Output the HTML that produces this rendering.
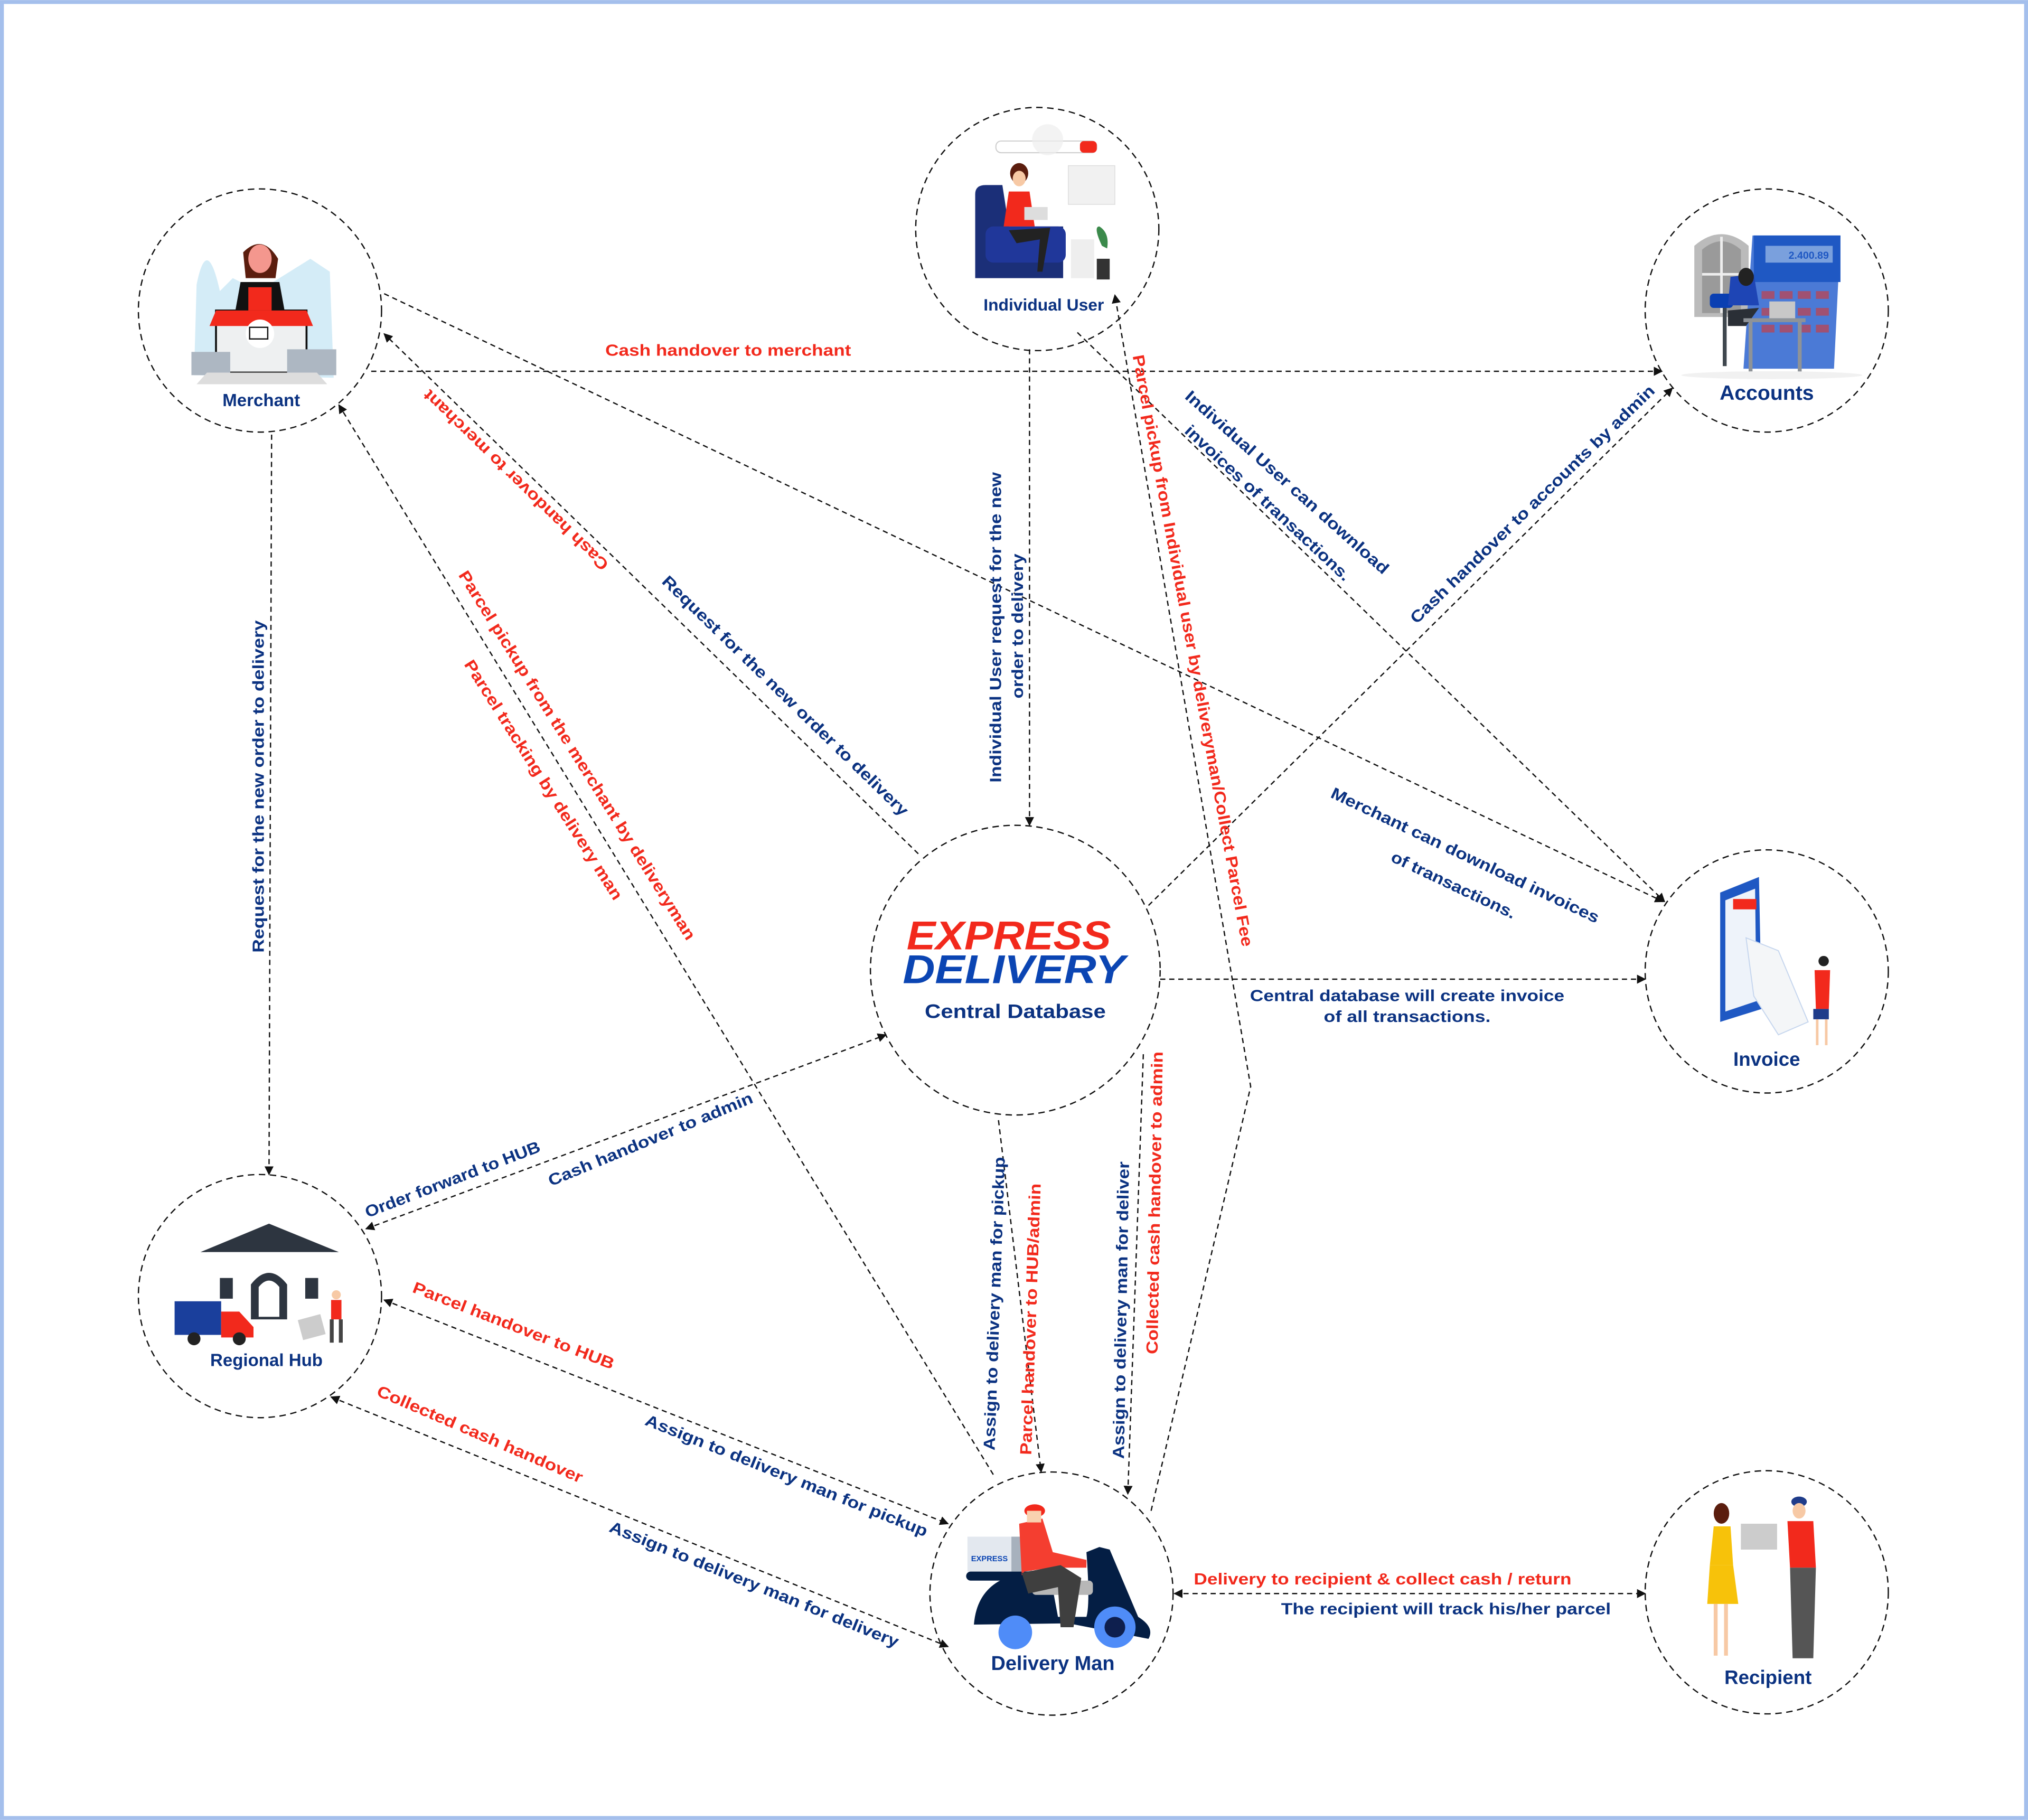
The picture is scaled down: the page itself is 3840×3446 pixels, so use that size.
<!DOCTYPE html>
<html><head><meta charset="utf-8"><style>
html,body{margin:0;padding:0;background:#fff}
svg{display:block}
text{font-family:"Liberation Sans",sans-serif;font-weight:bold}
.n{fill:#0b3281}.r{fill:#f2291c}
.l{stroke:#111;stroke-width:1;stroke-dasharray:4 3;fill:none}
.c{stroke:#111;stroke-width:1;stroke-dasharray:5 3.5;fill:none}
</style></head><body>
<svg width="3840" height="3446" viewBox="0 0 1568 1407" xmlns="http://www.w3.org/2000/svg">
<defs>
<marker id="a" viewBox="0 0 10 10" refX="9" refY="5" markerWidth="7" markerHeight="7" markerUnits="userSpaceOnUse" orient="auto-start-reverse"><path d="M0,0 L10,5 L0,10 z" fill="#111"/></marker>
</defs>
<rect x="1.5" y="1.5" width="1565" height="1404" fill="#fff" stroke="#a4bfec" stroke-width="3"/>

<line class="l" x1="287" y1="287" x2="1285" y2="287" marker-end="url(#a)"/>
<line class="l" x1="210" y1="336" x2="208" y2="908" marker-end="url(#a)"/>
<line class="l" x1="297" y1="227" x2="1286" y2="697" marker-end="url(#a)"/>
<line class="l" x1="710" y1="660" x2="297" y2="258" marker-end="url(#a)"/>
<line class="l" x1="768" y1="1140" x2="262" y2="313" marker-end="url(#a)"/>
<line class="l" x1="796" y1="270" x2="796" y2="638" marker-end="url(#a)"/>
<line class="l" x1="833" y1="257" x2="1287" y2="697" marker-end="url(#a)"/>
<polyline class="l" points="890,1168 967,840 862,228" marker-end="url(#a)"/>
<line class="l" x1="888" y1="700" x2="1293" y2="300" marker-end="url(#a)"/>
<line class="l" x1="897" y1="757" x2="1272" y2="757" marker-end="url(#a)"/>
<line class="l" x1="283" y1="950" x2="685" y2="800" marker-start="url(#a)" marker-end="url(#a)"/>
<line class="l" x1="297" y1="1005" x2="733" y2="1178" marker-start="url(#a)" marker-end="url(#a)"/>
<line class="l" x1="256" y1="1080" x2="733" y2="1273" marker-start="url(#a)" marker-end="url(#a)"/>
<line class="l" x1="772" y1="866" x2="805" y2="1138" marker-end="url(#a)"/>
<line class="l" x1="884" y1="815" x2="872" y2="1155" marker-end="url(#a)"/>
<line class="l" x1="908" y1="1232" x2="1272" y2="1232" marker-start="url(#a)" marker-end="url(#a)"/>

<circle class="c" cx="201" cy="240" r="94" fill="#fff"/>
<circle class="c" cx="802" cy="177" r="94" fill="#fff"/>
<circle class="c" cx="1366" cy="240" r="94" fill="#fff"/>
<circle class="c" cx="785" cy="750" r="112" fill="#fff"/>
<circle class="c" cx="1366" cy="751" r="94" fill="#fff"/>
<circle class="c" cx="201" cy="1002" r="94" fill="#fff"/>
<circle class="c" cx="813" cy="1232" r="94" fill="#fff"/>
<circle class="c" cx="1366" cy="1231" r="94" fill="#fff"/>

<g>
<path d="M150,290 L152,220 Q160,180 170,225 L180,215 L200,225 L240,200 L255,210 L258,292 Z" fill="#d4ecf7"/>
<rect x="167" y="240" width="70" height="48" fill="#eef0f1" stroke="#111" stroke-width="1.5"/>
<path d="M188,195 Q203,180 215,200 L213,215 L190,215 Z" fill="#5b1d0e"/>
<ellipse cx="201" cy="200" rx="9" ry="11" fill="#f4978e"/>
<path d="M182,240 L186,218 L216,218 L220,240 Z" fill="#111"/>
<rect x="192" y="222" width="18" height="18" fill="#f2291c"/>
<path d="M167,240 L237,240 L242,252 L162,252 Z" fill="#f2291c"/>
<circle cx="201" cy="258" r="11" fill="#fff"/>
<rect x="193" y="253" width="14" height="9" fill="none" stroke="#111" stroke-width="1"/>
<rect x="148" y="272" width="30" height="18" fill="#adb7c2"/>
<rect x="222" y="270" width="38" height="20" fill="#adb7c2"/>
<path d="M160,288 L245,288 L253,297 L152,297 Z" fill="#ddd"/>
</g>
<text class="n" x="202" y="314" font-size="13.5" text-anchor="middle">Merchant</text>

<g>
<rect x="770" y="109" width="78" height="9" rx="4" fill="#fff" stroke="#ccc" stroke-width="0.8"/>
<rect x="835" y="109" width="13" height="9" rx="3" fill="#f2291c"/>
<circle cx="810" cy="108" r="12" fill="#eee" opacity="0.7"/>
<rect x="826" y="128" width="36" height="30" fill="#f1f1f1" stroke="#ddd" stroke-width="0.6"/>
<path d="M754,215 L754,150 Q754,143 762,143 L775,143 L780,175 L822,175 L822,215 Z" fill="#1b2f78"/>
<rect x="762" y="175" width="62" height="28" rx="6" fill="#20379a"/>
<ellipse cx="788" cy="134" rx="7" ry="8" fill="#5b1d0e"/>
<ellipse cx="788" cy="138" rx="5" ry="6" fill="#f7c9a5"/>
<path d="M776,175 L780,148 L796,148 L800,175 Z" fill="#f2291c"/>
<path d="M780,178 L812,176 L806,210 L802,210 L804,185 L786,188 Z" fill="#222"/>
<rect x="792" y="160" width="18" height="10" fill="#ddd"/>
<rect x="828" y="185" width="18" height="30" fill="#eee"/>
<path d="M852,190 Q845,175 850,175 Q858,180 856,192 Z" fill="#3b8a4b"/>
<rect x="848" y="200" width="10" height="16" fill="#333"/>
</g>
<text class="n" x="807" y="240" font-size="13" text-anchor="middle">Individual User</text>

<g>
<path d="M1310,245 L1310,190 Q1331,172 1352,190 L1352,245 Z" fill="#bbb"/>
<path d="M1316,242 L1316,193 Q1331,180 1346,193 L1346,242 Z" fill="#9a9a9a"/>
<line x1="1331" y1="183" x2="1331" y2="242" stroke="#eee" stroke-width="2"/>
<line x1="1316" y1="212" x2="1346" y2="212" stroke="#eee" stroke-width="2"/>
<path d="M1355,182 L1423,182 L1418,285 L1348,285 Z" fill="#4b7ad6"/>
<rect x="1356" y="182" width="67" height="36" fill="#1f58c3"/>
<rect x="1365" y="190" width="52" height="13" fill="#7aa0dd"/>
<text x="1414" y="200" font-size="8" font-weight="normal" fill="#1f58c3" text-anchor="end">2.400.89</text>
<g fill="#a05172">
<rect x="1362" y="225" width="10" height="6"/><rect x="1376" y="225" width="10" height="6"/><rect x="1390" y="225" width="10" height="6"/><rect x="1404" y="225" width="10" height="6"/>
<rect x="1362" y="238" width="10" height="6"/><rect x="1376" y="238" width="10" height="6"/><rect x="1390" y="238" width="10" height="6"/><rect x="1404" y="238" width="10" height="6"/>
<rect x="1362" y="251" width="10" height="6"/><rect x="1376" y="251" width="10" height="6"/><rect x="1390" y="251" width="10" height="6"/><rect x="1404" y="251" width="10" height="6"/>
</g>
<rect x="1322" y="227" width="18" height="11" rx="3" fill="#0a3fb2"/>
<rect x="1332" y="238" width="3" height="45" fill="#3f474e"/>
<path d="M1336,236 L1338,214 L1356,212 L1360,236 Z" fill="#1e45b5"/>
<ellipse cx="1350" cy="214" rx="6" ry="7" fill="#222"/>
<path d="M1336,240 L1360,238 L1350,252 L1336,252 Z" fill="#2a2f36"/>
<rect x="1348" y="246" width="48" height="3" fill="#8e9398"/>
<rect x="1352" y="249" width="3" height="40" fill="#8e9398"/><rect x="1390" y="249" width="3" height="40" fill="#8e9398"/>
<rect x="1368" y="233" width="20" height="13" fill="#c8c8c8"/>
<ellipse cx="1370" cy="290" rx="70" ry="3" fill="#f1f1f1"/>
</g>
<text class="n" x="1366" y="309" font-size="16" text-anchor="middle">Accounts</text>

<text x="780" y="734" font-size="31" font-style="italic" fill="#f2291c" text-anchor="middle" textLength="158" lengthAdjust="spacingAndGlyphs">EXPRESS</text>
<text x="784" y="760" font-size="31" font-style="italic" fill="#0b45b3" text-anchor="middle" textLength="172" lengthAdjust="spacingAndGlyphs">DELIVERY</text>
<text class="n" x="785" y="787" font-size="15" text-anchor="middle" textLength="140" lengthAdjust="spacingAndGlyphs">Central Database</text>

<g>
<path d="M1330,690 L1360,678 L1362,780 L1330,790 Z" fill="#1f58c3"/>
<path d="M1334,696 L1357,687 L1358,774 L1334,782 Z" fill="#eef3fa"/>
<rect x="1340" y="695" width="18" height="8" fill="#f2291c"/>
<path d="M1350,725 L1375,735 L1398,790 L1375,800 L1356,770 Z" fill="#f4f6f8" stroke="#c6d6ee" stroke-width="0.8"/>
<circle cx="1410" cy="743" r="4" fill="#222"/>
<path d="M1403,750 L1415,750 L1414,780 L1404,780 Z" fill="#f2291c"/>
<rect x="1402" y="780" width="12" height="8" fill="#1f3c8a"/>
<rect x="1404" y="788" width="2" height="20" fill="#f7c9a5"/><rect x="1411" y="788" width="2" height="20" fill="#f7c9a5"/>
</g>
<text class="n" x="1366" y="824" font-size="15" text-anchor="middle">Invoice</text>

<g>
<path d="M155,968 L208,946 L262,968 Z" fill="#2d3540"/>
<rect x="160" y="968" width="96" height="55" fill="#fff"/>
<path d="M194,1020 L194,993 Q208,975 222,993 L222,1020 Z" fill="#2d3540"/>
<path d="M200,1018 L200,995 Q208,985 216,995 L216,1018 Z" fill="#fff"/>
<rect x="170" y="988" width="10" height="16" fill="#2d3540"/><rect x="236" y="988" width="10" height="16" fill="#2d3540"/>
<rect x="135" y="1006" width="36" height="26" fill="#1a3f9c"/>
<path d="M171,1014 L185,1014 L196,1026 L196,1034 L171,1034 Z" fill="#f2291c"/>
<circle cx="150" cy="1035" r="5" fill="#222"/><circle cx="185" cy="1035" r="5" fill="#222"/>
<rect x="232" y="1018" width="18" height="16" fill="#ccc" transform="rotate(-15 241 1026)"/>
<rect x="256" y="1005" width="8" height="15" fill="#f2291c"/>
<circle cx="260" cy="1001" r="3.5" fill="#f7c9a5"/>
<rect x="255" y="1020" width="3" height="18" fill="#444"/><rect x="262" y="1020" width="3" height="18" fill="#444"/>
</g>
<text class="n" x="206" y="1056" font-size="13.5" text-anchor="middle">Regional Hub</text>

<g>
<rect x="748" y="1188" width="50" height="27" fill="#e3e8ef"/>
<rect x="782" y="1188" width="16" height="27" fill="#a7b1bd"/>
<text x="765" y="1207" font-size="6" fill="#0b45b3" text-anchor="middle">EXPRESS</text>
<rect x="747" y="1215" width="58" height="7" rx="3.5" fill="#041e44"/>
<path d="M753,1256 Q756,1218 800,1215 L812,1218 L818,1250 L840,1250 Q843,1240 840,1200 L850,1196 L858,1198 L880,1250 Q893,1258 888,1267 L826,1255 Z" fill="#041e44"/>
<circle cx="785" cy="1262" r="13" fill="#4f8cf8"/>
<circle cx="862" cy="1258" r="16" fill="#4f8cf8"/>
<circle cx="862" cy="1258" r="8" fill="#0e1f4e"/>
<rect x="798" y="1222" width="47" height="11" rx="3" fill="#b7b7b7"/>
<path d="M790,1218 L788,1178 L806,1174 L814,1200 L840,1206 L840,1212 L812,1212 L792,1215 Z" fill="#f43e30"/>
<path d="M790,1216 L820,1210 L836,1220 L830,1258 L820,1258 L818,1227 L795,1232 Z" fill="#3f3f3f"/>
<ellipse cx="800" cy="1168" rx="8" ry="5" fill="#f2291c"/>
<rect x="794" y="1168" width="11" height="9" fill="#f9d2b0"/>
</g>
<text class="n" x="814" y="1291" font-size="15.5" text-anchor="middle">Delivery Man</text>

<g>
<ellipse cx="1331" cy="1170" rx="6" ry="8" fill="#5b1d0e"/>
<path d="M1325,1180 L1338,1180 L1340,1210 L1322,1210 Z" fill="#f7c20a"/>
<path d="M1322,1210 L1340,1210 L1344,1240 L1320,1240 Z" fill="#f7c20a"/>
<rect x="1325" y="1240" width="3" height="40" fill="#f7c9a5"/><rect x="1333" y="1240" width="3" height="40" fill="#f7c9a5"/>
<rect x="1346" y="1178" width="28" height="20" fill="#ccc"/>
<ellipse cx="1391" cy="1161" rx="6" ry="4" fill="#1f3c8a"/>
<ellipse cx="1391" cy="1168" rx="5" ry="6" fill="#f7c9a5"/>
<path d="M1382,1176 L1402,1176 L1404,1212 L1384,1212 Z" fill="#f2291c"/>
<path d="M1384,1212 L1404,1212 L1402,1282 L1386,1282 Z" fill="#555"/>
</g>
<text class="n" x="1367" y="1302" font-size="15" text-anchor="middle">Recipient</text>

<g font-size="12.5">
<text class="r" x="563" y="275" text-anchor="middle" textLength="190" lengthAdjust="spacingAndGlyphs">Cash handover to merchant</text>
<text class="n" transform="translate(204,608) rotate(-90)" text-anchor="middle" textLength="257" lengthAdjust="spacingAndGlyphs">Request for the new order to delivery</text>
<text class="n" transform="translate(1131,665) rotate(25.4)" text-anchor="middle" textLength="228" lengthAdjust="spacingAndGlyphs">Merchant can download invoices</text>
<text class="n" transform="translate(1122,688) rotate(25.4)" text-anchor="middle" textLength="105" lengthAdjust="spacingAndGlyphs">of transactions.</text>
<text class="r" transform="translate(399,371) rotate(224.2)" text-anchor="middle" dy="4" textLength="194" lengthAdjust="spacingAndGlyphs">Cash handover to merchant</text>
<text class="n" transform="translate(607,538) rotate(44.2)" text-anchor="middle" dy="4" textLength="260" lengthAdjust="spacingAndGlyphs">Request for the new order to delivery</text>
<text class="r" transform="translate(446,584) rotate(58)" text-anchor="middle" dy="4" textLength="334" lengthAdjust="spacingAndGlyphs">Parcel pickup from the merchant by deliveryman</text>
<text class="r" transform="translate(420,603) rotate(57.6)" text-anchor="middle" dy="4" textLength="217" lengthAdjust="spacingAndGlyphs">Parcel tracking by delivery man</text>
<text class="n" transform="translate(774,485) rotate(-90)" text-anchor="middle" textLength="240" lengthAdjust="spacingAndGlyphs">Individual User request for the new</text>
<text class="n" transform="translate(791,484) rotate(-90)" text-anchor="middle" textLength="112" lengthAdjust="spacingAndGlyphs">order to delivery</text>
<text class="n" transform="translate(995,373) rotate(41.7)" text-anchor="middle" dy="4" textLength="206" lengthAdjust="spacingAndGlyphs">Individual User can download</text>
<text class="n" transform="translate(980,389) rotate(43)" text-anchor="middle" dy="4" textLength="170" lengthAdjust="spacingAndGlyphs">invoices of transactions.</text>
<text class="r" transform="translate(922,503) rotate(79.5)" text-anchor="middle" dy="4" textLength="465" lengthAdjust="spacingAndGlyphs">Parcel pickup from Individual user by deliveryman/Collect Parcel Fee</text>
<text class="n" transform="translate(1185,390) rotate(-44.2)" text-anchor="middle" dy="4" textLength="258" lengthAdjust="spacingAndGlyphs">Cash handover to accounts by admin</text>
<text class="n" x="1088" y="774" text-anchor="middle" textLength="243" lengthAdjust="spacingAndGlyphs">Central database will create invoice</text>
<text class="n" x="1088" y="790" text-anchor="middle" textLength="129" lengthAdjust="spacingAndGlyphs">of all  transactions.</text>
<text class="n" transform="translate(350,912) rotate(-21)" text-anchor="middle" dy="4" textLength="144" lengthAdjust="spacingAndGlyphs">Order forward to HUB</text>
<text class="n" transform="translate(503,881) rotate(-22.5)" text-anchor="middle" dy="4" textLength="170" lengthAdjust="spacingAndGlyphs">Cash handover to admin</text>
<text class="r" transform="translate(397,1025) rotate(21.2)" text-anchor="middle" dy="4" textLength="166" lengthAdjust="spacingAndGlyphs">Parcel handover to HUB</text>
<text class="n" transform="translate(608,1141) rotate(21.8)" text-anchor="middle" dy="4" textLength="234" lengthAdjust="spacingAndGlyphs">Assign to delivery man for pickup</text>
<text class="r" transform="translate(371,1109) rotate(23.3)" text-anchor="middle" dy="4" textLength="172" lengthAdjust="spacingAndGlyphs">Collected cash handover</text>
<text class="n" transform="translate(583,1225) rotate(22)" text-anchor="middle" dy="4" textLength="240" lengthAdjust="spacingAndGlyphs">Assign to delivery man for delivery</text>
<text class="n" transform="translate(773,1008) rotate(-88)" text-anchor="middle" textLength="227" lengthAdjust="spacingAndGlyphs">Assign to delivery man for pickup</text>
<text class="r" transform="translate(801,1020) rotate(-88)" text-anchor="middle" textLength="210" lengthAdjust="spacingAndGlyphs">Parcel handover to HUB/admin</text>
<text class="n" transform="translate(871,1013) rotate(-89)" text-anchor="middle" textLength="230" lengthAdjust="spacingAndGlyphs">Assign to delivery man for deliver</text>
<text class="r" transform="translate(897,930) rotate(-89)" text-anchor="middle" textLength="234" lengthAdjust="spacingAndGlyphs">Collected cash handover to admin</text>
<text class="r" x="1069" y="1225" text-anchor="middle" textLength="292" lengthAdjust="spacingAndGlyphs">Delivery to recipient &amp; collect cash / return</text>
<text class="n" x="1118" y="1248" text-anchor="middle" textLength="255" lengthAdjust="spacingAndGlyphs">The recipient will track his/her parcel</text>
</g>
</svg>
</body></html>
